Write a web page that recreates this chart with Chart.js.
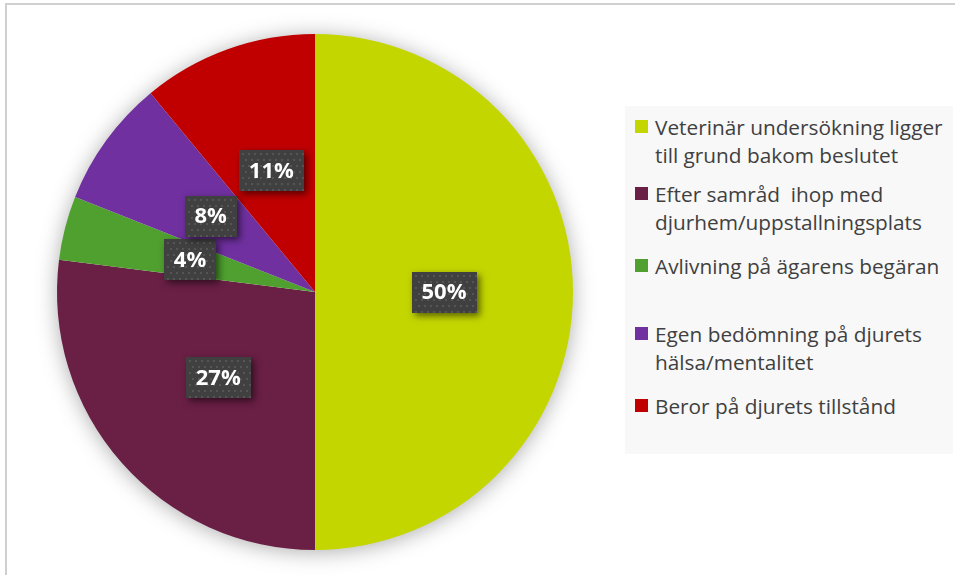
<!DOCTYPE html>
<html>
<head>
<meta charset="utf-8">
<script src="https://cdn.jsdelivr.net/npm/chart.js@4.4.1/dist/chart.umd.min.js"></script>
<style>
  html, body { margin: 0; padding: 0; background: #fff; }
  #wrap { position: relative; width: 955px; height: 575px; overflow: hidden; }
  #frame { position: absolute; left: 5px; top: 3px; width: 1000px; height: 700px;
           border-top: 2px solid #cfcfcf; border-left: 2px solid #cfcfcf; }
  #c { position: absolute; left: 0; top: 0; }
  #legend { position: absolute; left: 625px; top: 106px; width: 328px; height: 348px; background: #f8f8f8; }
  .item { position: absolute; left: 30px; font-family: "Open Sans", sans-serif; font-size: 20.8px;
          line-height: 28px; color: #404040; white-space: pre; }
  .sw { position: absolute; left: 10px; width: 13px; height: 13px; }
</style>
</head>
<body>
<div id="wrap">
  <div id="frame"></div>
  <canvas id="c" width="955" height="575"></canvas>
  <div id="legend"></div>
</div>
<script>
const categories = [
  ["Veterinär undersökning ligger", "till grund bakom beslutet"],
  ["Efter samråd  ihop med", "djurhem/uppstallningsplats"],
  ["Avlivning på ägarens begäran"],
  ["Egen bedömning på djurets", "hälsa/mentalitet"],
  ["Beror på djurets tillstånd"]
];
const shares = [50, 27, 4, 8, 11];
const colors = ["#C4D600", "#6A1F45", "#4FA02F", "#7030A0", "#C00000"];
const legendTops = [113, 180, 252, 320, 392];

// legend (HTML)
const leg = document.getElementById('legend');
categories.forEach((lines, i) => {
  const sw = document.createElement('div');
  sw.className = 'sw';
  sw.style.background = colors[i];
  sw.style.top = (legendTops[i] - 106 + 7) + 'px';
  leg.appendChild(sw);
  const it = document.createElement('div');
  it.className = 'item';
  it.style.top = (legendTops[i] - 106) + 'px';
  it.textContent = lines.join('\n');
  leg.appendChild(it);
});

const shadowPlugin = {
  id: 'pieShadow',
  beforeDatasetsDraw(chart) {
    const arc = chart.getDatasetMeta(0).data[0];
    if (!arc) return;
    const { x, y, outerRadius } = arc.getProps(['x', 'y', 'outerRadius'], true);
    const ctx = chart.ctx;
    ctx.save();
    ctx.shadowColor = 'rgba(0,0,0,0.35)';
    ctx.shadowBlur = 22;
    ctx.shadowOffsetX = 0;
    ctx.shadowOffsetY = 2;
    ctx.beginPath();
    ctx.arc(x, y, outerRadius - 1, 0, Math.PI * 2);
    ctx.fillStyle = '#ffffff';
    ctx.fill();
    ctx.restore();
  }
};

const labelPlugin = {
  id: 'boxLabels',
  afterDatasetsDraw(chart) {
    const ctx = chart.ctx;
    const data = chart.data.datasets[0].data;
    const total = data.reduce((a, b) => a + b, 0);
    chart.getDatasetMeta(0).data.forEach((arc, i) => {
      const p = arc.getCenterPoint();
      const txt = Math.round(data[i] / total * 100) + '%';
      ctx.save();
      ctx.font = 'bold 22px "Open Sans", sans-serif';
      const tw = ctx.measureText(txt).width;
      const w = Math.round(tw + 20), h = 41;
      const bx = Math.round(p.x - w / 2), by = Math.round(p.y - h / 2);
      ctx.shadowColor = 'rgba(0,0,0,0.55)';
      ctx.shadowBlur = 7;
      ctx.shadowOffsetX = 3;
      ctx.shadowOffsetY = 3;
      ctx.fillStyle = '#404040';
      ctx.fillRect(bx, by, w, h);
      ctx.shadowColor = 'transparent';
      ctx.shadowBlur = 0; ctx.shadowOffsetX = 0; ctx.shadowOffsetY = 0;
      ctx.fillStyle = '#555555';
      for (let yy = by + 3; yy < by + h - 1; yy += 6) {
        for (let xx = bx + 3 + ((yy - by) % 12 === 3 ? 0 : 3); xx < bx + w - 1; xx += 6) {
          ctx.fillRect(xx, yy, 2, 2);
        }
      }
      ctx.fillStyle = '#ffffff';
      ctx.textAlign = 'center';
      ctx.textBaseline = 'middle';
      ctx.fillText(txt, p.x, p.y + 1);
      ctx.restore();
    });
  }
};

new Chart(document.getElementById('c'), {
  type: 'pie',
  data: {
    labels: categories.map(l => l.join(' ')),
    datasets: [{
      data: shares,
      backgroundColor: colors,
      borderWidth: 0
    }]
  },
  options: {
    responsive: false,
    animation: false,
    layout: { padding: { left: 57, right: 382, top: 34, bottom: 25 } },
    plugins: { legend: { display: false }, tooltip: { enabled: false } }
  },
  plugins: [shadowPlugin, labelPlugin]
});
</script>
</body>
</html>
